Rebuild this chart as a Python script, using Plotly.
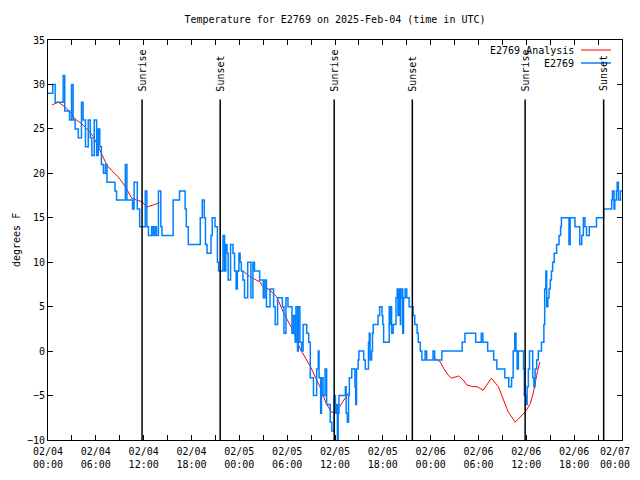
import pandas as pd
import plotly.graph_objects as go

# ---------------- data ----------------
BASE = pd.Timestamp("2025-02-04 00:00")

# observed temperature (hours after 2025-02-04 00:00 UTC, degrees F)
obs_hours = [
    0.0, 0.6, 0.9, 1.9, 2.1, 2.7, 2.95, 3.15, 3.4, 3.8, 4.2, 4.4, 4.7, 5.05, 5.3, 5.5, 5.8, 6.1, 6.3,
    6.5, 6.7, 6.95, 7.2, 7.4, 8.4, 8.6, 9.7, 9.9, 10.6, 10.8, 11.2, 11.5, 12.2, 12.4, 12.6, 13.0, 13.2,
    13.4, 13.6, 13.85, 14.15, 14.3, 15.7, 16.5, 17.2, 17.35, 17.6, 19.1, 19.35, 19.6, 19.75, 19.95,
    20.3, 20.45, 20.6, 20.95, 21.25, 21.4, 21.95, 22.15, 22.3, 22.45, 22.6, 22.9, 23.2, 23.4, 23.6,
    23.75, 23.95, 24.1, 24.25, 24.45, 24.65, 25.05, 25.45, 25.7, 25.9, 26.15, 26.55,
    26.8, 27.0, 27.2, 27.4, 27.85, 28.3, 28.5, 28.8, 29.4, 29.6, 29.85, 30.1, 30.6, 30.8, 31.0, 31.1,
    31.3, 31.4, 31.6, 31.8, 32.0, 32.45, 32.7, 32.9, 33.3, 33.7, 33.9, 34.0, 34.2, 34.3, 34.5, 34.75,
    34.95, 35.4, 35.6, 35.9, 36.05, 36.2, 36.3, 36.4, 36.5, 37.3, 37.4, 37.55, 37.7, 37.8, 38.1, 38.5,
    38.6, 38.7, 38.9, 39.0, 39.6, 39.8, 40.2, 40.3,
    40.4, 40.6, 40.7, 40.8, 41.4, 41.6, 41.9, 42.0, 42.1, 42.8, 42.9, 43.0, 43.1, 43.3, 43.65, 43.8,
    43.9, 44.05, 44.2, 44.25, 44.4, 44.5, 44.6, 44.8, 45.0, 45.3, 45.8, 46.0, 46.3, 46.45, 46.7, 46.9,
    47.3, 47.5, 48.3, 48.5, 49.4, 51.95, 52.3, 53.65, 54.35, 54.55, 55.15, 55.9, 56.3, 57.3, 57.8,
    58.15, 58.35, 58.55, 58.7, 58.85, 59.0, 59.65, 59.75, 59.95, 60.1, 60.25, 60.4, 60.8, 60.95, 61.1,
    61.3, 61.5, 61.9, 62.2, 62.3, 62.45, 62.55, 62.7, 62.85, 63.0, 63.15, 63.3, 63.5, 63.8, 64.1, 64.3,
    64.4, 65.35, 65.5, 66.1, 66.7, 66.95, 67.15, 67.35, 67.55, 67.9, 68.8, 69.7, 70.7, 70.8, 71.0,
    71.1, 71.3, 71.4, 71.55, 71.8, 72.0,
]
obs_temps = [
    29, 30, 28, 31, 27, 26, 30, 26, 25, 24, 28, 26, 23, 26, 24, 22, 26, 22, 25,
    23, 21, 20, 21, 19, 18, 17, 21, 17, 16, 19, 16, 14, 18, 14, 13, 14, 13,
    14, 13, 18, 14, 13, 17, 18, 16, 14, 12, 15, 17, 15, 12, 11,
    11, 13, 15, 14, 10, 9, 13, 9, 12, 11, 8, 12, 11, 9, 7,
    9, 11, 10, 9, 8, 6, 10, 6, 10, 9, 9, 8,
    8, 6, 8, 5, 7, 5, 3, 6, 5, 2, 6, 5, 2, 4, 1, 5,
    0, 5, 1, 0, 3, 2, 1, -3, -5, -2, 0, -3, -7, -3, -5, -2,
    -6, -8, -9, -5, -7, -6, -10, -7, -5, -4, -7, -8, -5, -3, -2, -4,
    -6, -2, -1, 0, -1, -2, 1, 2,
    -1, 0, 2, 3, 4, 5, 4, 3, 1, 5, 3, 5, 2, 3, 6, 7,
    4, 7, 3, 6, 7, 2, 6, 7, 6, 5, 4, 3, 2, 1, 0, -1,
    0, -1, 0, -1, 0, 1, 2, 1, 2, 1, 0, -1, -2, -3, -4,
    -3, 0, 2, 0, -2, 0, -2, -5, -6, -4, -2, 0, -3, -4, -2,
    -1, 0, 1, 3, 7, 9, 5, 6, 7, 8, 9, 10, 11, 12, 13, 14,
    15, 12, 15, 14, 12, 13, 15, 14, 13, 14, 15, 16, 17, 18, 16,
    17, 18, 19, 17, 18, 18,
]

# analysis series (None = gap)
ana_hours = [
    0.5, 1.3, 2.1, 2.8, 3.4, 4.2, 5.1, 5.7, 6.3, 7.0, 7.4, 8.0, 8.8, 9.7, 10.5, 11.1, 11.8, 12.4,
    13.0, 13.7, 14.0, 19.0,
    24.5, 25.3, 26.1, 26.6, 26.9, 27.8, 28.7, 29.5, 30.8, 31.6, 32.9, 34.1, 34.9, 35.6, 36.1,
    36.8, 37.7, 43.0,
    48.5, 49.2, 49.6, 50.2, 50.6, 51.5, 52.1, 52.5, 53.3, 53.8, 54.6, 55.6, 56.5, 57.1, 57.7,
    58.6, 59.2, 59.9, 60.5, 60.9, 61.3, 61.7,
]
ana_temps = [
    27.7, 28.0, 27.5, 26.9, 26.1, 25.6, 24.8, 24.1, 23.0, 21.7, 20.9, 20.3, 19.6, 18.5, 17.2, 17.0,
    16.8, 16.2, 16.4, 16.6, 16.7, None,
    9.0, 8.4, 8.0, 7.8, 7.3, 6.9, 6.1, 4.4, 2.2, 0.3, -1.7, -4.0, -5.9, -6.9, -6.9,
    -5.9, -4.7, None,
    -0.8, -1.2, -1.9, -2.7, -3.05, -2.8, -3.25, -3.8, -4.0, -4.0, -4.4, -3.05, -4.0, -5.5, -6.8,
    -8.0, -7.4, -6.8, -5.9, -4.6, -2.7, -1.2,
]

# sunrise / sunset events
event_hours = [11.8, 21.6, 35.9, 45.7, 59.85, 69.7]
event_names = ["Sunrise", "Sunset", "Sunrise", "Sunset", "Sunrise", "Sunset"]

# x tick positions (hours) and labels (last label drawn separately so it fits the page)
tick_hours = list(range(0, 73, 3))
tick_labels = [
    "02/04<br>00:00", "", "02/04<br>06:00", "", "02/04<br>12:00", "", "02/04<br>18:00", "",
    "02/05<br>00:00", "", "02/05<br>06:00", "", "02/05<br>12:00", "", "02/05<br>18:00", "",
    "02/06<br>00:00", "", "02/06<br>06:00", "", "02/06<br>12:00", "", "02/06<br>18:00", "",
    "",
]
last_tick_label = "02/07<br>00:00"


def to_time(hours):
    return [BASE + pd.Timedelta(hours=h) for h in hours]


FONT = "DejaVu Sans Mono"
BLUE = "rgb(0,128,255)"
RED = "rgb(255,0,0)"

# page body has an 8px margin: the figure is shifted/sized so the page fits the window
OFF = 8
FIG_W, FIG_H = 640 - OFF, 480 - 2 * OFF

fig = go.Figure()
fig.add_trace(go.Scatter(
    x=to_time(ana_hours), y=ana_temps, mode="lines", name="E2769 Analysis",
    line=dict(color=RED, width=1), connectgaps=False, showlegend=False,
))
fig.add_trace(go.Scatter(
    x=to_time(obs_hours), y=obs_temps, mode="lines", name="E2769",
    line=dict(color=BLUE, width=1.5, shape="hv"), showlegend=False,
))

# sunrise / sunset lines and labels
for t, name in zip(to_time(event_hours), event_names):
    fig.add_shape(type="line", x0=t, x1=t, y0=-10, y1=28.3, xref="x", yref="y",
                  line=dict(color="black", width=1.5))
    fig.add_annotation(x=t, y=29.1, xref="x", yref="y", text=name, textangle=-90,
                       showarrow=False, xanchor="center", yanchor="bottom",
                       font=dict(family=FONT, size=10, color="black"), borderpad=0)

# legend drawn gnuplot-style (text then sample); pixel coords of the reference window
W, H, L, T = 574.0, 400.0, 48.0, 40.0
def px(x):
    return (x - L) / W
def py(y):
    return (T + H - y) / H

for label, color, ypix, lw in [("E2769 Analysis", RED, 50, 1), ("E2769", BLUE, 63, 1.5)]:
    fig.add_annotation(x=px(575), y=py(ypix), xref="paper", yref="paper", text=label,
                       showarrow=False, xanchor="right", yanchor="middle",
                       font=dict(family=FONT, size=10, color="black"), borderpad=0)
    fig.add_shape(type="line", xref="paper", yref="paper", x0=px(581), x1=px(611),
                  y0=py(ypix), y1=py(ypix), line=dict(color=color, width=lw))

# last x tick label, kept inside the page
fig.add_annotation(x=px(631), y=py(445), xref="paper", yref="paper", text=last_tick_label,
                   showarrow=False, xanchor="right", yanchor="top", align="center",
                   font=dict(family=FONT, size=10, color="black"), borderpad=0)

# y axis title
fig.add_annotation(x=px(16), y=py(240), xref="paper", yref="paper", text="degrees F",
                   textangle=-90, showarrow=False, xanchor="center", yanchor="middle",
                   font=dict(family=FONT, size=10, color="black"), borderpad=0)

fig.update_layout(
    width=FIG_W, height=FIG_H,
    margin=dict(l=48 - OFF, r=FIG_W - (48 - OFF) - 574, t=40 - OFF,
                b=FIG_H - (40 - OFF) - 400, autoexpand=False),
    paper_bgcolor="white", plot_bgcolor="white",
    title=dict(text="Temperature for E2769 on 2025-Feb-04 (time in UTC)",
               x=0.5, xref="paper", xanchor="center", y=1 - (19 - OFF) / FIG_H,
               yref="container", yanchor="middle",
               font=dict(family=FONT, size=10, color="black")),
    font=dict(family=FONT, size=10, color="black"),
    showlegend=False,
)
fig.update_xaxes(
    range=[BASE, BASE + pd.Timedelta(hours=72)],
    tickmode="array", tickvals=to_time(tick_hours), ticktext=tick_labels,
    ticks="inside", ticklen=5, tickcolor="black", tickwidth=1,
    showline=True, linecolor="black", linewidth=1, mirror="ticks",
    showgrid=False, zeroline=False, ticklabelstandoff=2,
    tickfont=dict(family=FONT, size=10, color="black"),
)
fig.update_yaxes(
    range=[-10, 35], tickmode="linear", tick0=-10, dtick=5,
    ticks="inside", ticklen=5, tickcolor="black", tickwidth=1,
    showline=True, linecolor="black", linewidth=1, mirror="ticks",
    showgrid=False, zeroline=False,
    tickfont=dict(family=FONT, size=10, color="black"),
)

fig.write_html("out.html")
